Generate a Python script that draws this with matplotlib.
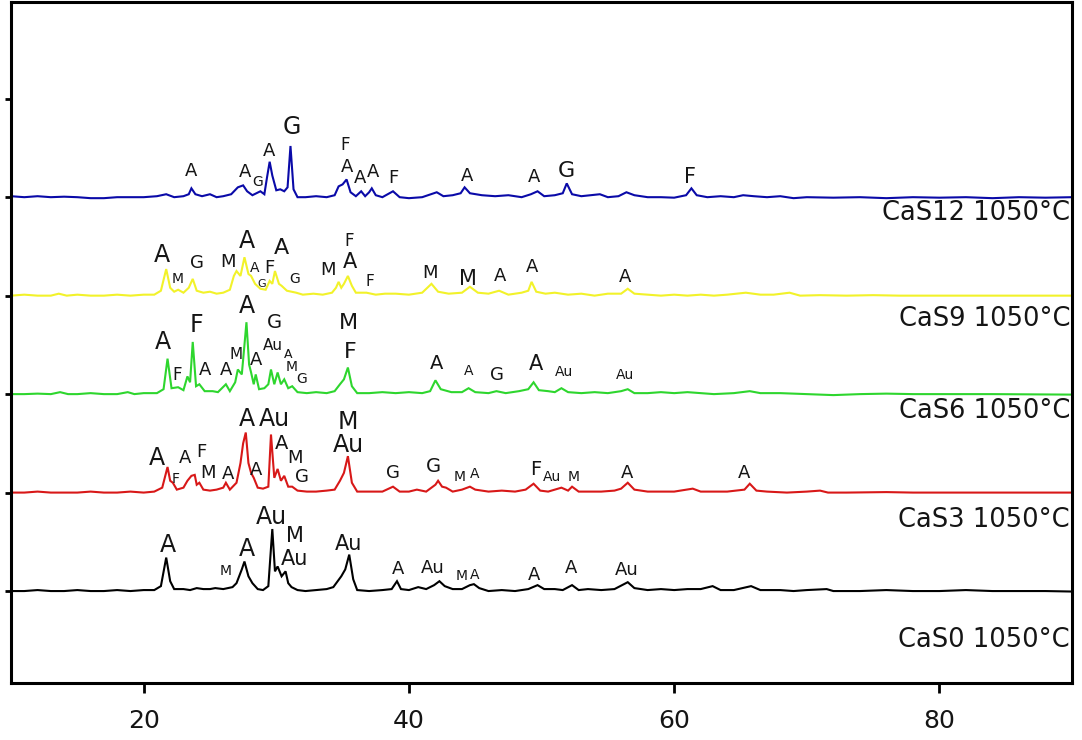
import matplotlib
matplotlib.use("Agg")
import matplotlib.pyplot as plt

plt.rcParams['font.family'] = ['DejaVu Sans']

# ---------------- data ----------------
samples = ["CaS0 1050°C", "CaS3 1050°C", "CaS6 1050°C", "CaS9 1050°C", "CaS12 1050°C"]
offsets = [1, 2, 3, 4, 5]
colors = ["#000000", "#d81818", "#2ed62e", "#f2f22a", "#0a0aa8"]

# CaS0 (black)
x0 = [10, 11, 12, 13, 14, 15, 16, 17, 18, 19, 20, 20.8, 21.3, 21.7, 22.0, 22.3, 23.0, 23.5, 24.0, 24.5,
      25.0, 25.4, 26.0, 26.7, 27.0, 27.4, 27.6, 27.9, 28.2, 28.6, 29.0, 29.4, 29.7, 29.9, 30.1, 30.4,
      30.7, 30.9, 31.15, 31.6, 32.2, 33.0, 33.8, 34.3, 34.9, 35.2, 35.5, 35.8, 36.1, 37.0, 38.0, 38.7,
      39.1, 39.4, 40.0, 40.7, 41.3, 41.9, 42.3, 42.7, 43.3, 44.0, 44.6, 44.9, 45.3, 46.0, 47.0, 48.0,
      49.0, 49.7, 50.2, 51.0, 51.6, 52.3, 52.8, 53.5, 54.5, 55.5, 56.5, 57.0, 58.0, 59.0, 60.0, 61.0,
      62.0, 62.9, 63.5, 64.5, 65.8, 66.5, 68.0, 69.0, 70.0, 71.5, 72.0, 74, 76, 78, 80, 82, 84, 86, 88, 90]
y0 = [0.0, 0.0, 0.01, 0.0, 0.0, 0.01, 0.0, 0.0, 0.01, 0.0, 0.01, 0.01, 0.05, 0.34, 0.10, 0.02, 0.02, 0.01, 0.03, 0.02,
      0.02, 0.03, 0.02, 0.04, 0.08, 0.22, 0.30, 0.15, 0.08, 0.02, 0.01, 0.05, 0.63, 0.20, 0.25, 0.15,
      0.20, 0.08, 0.04, 0.01, 0.0, 0.01, 0.02, 0.04, 0.15, 0.22, 0.37, 0.12, 0.01, 0.0, 0.01, 0.02,
      0.10, 0.02, 0.01, 0.04, 0.02, 0.06, 0.10, 0.05, 0.02, 0.02, 0.06, 0.07, 0.03, 0.0, 0.01, 0.0,
      0.02, 0.06, 0.02, 0.02, 0.01, 0.06, 0.01, 0.02, 0.01, 0.02, 0.09, 0.03, 0.01, 0.02, 0.01, 0.02,
      0.02, 0.05, 0.01, 0.01, 0.05, 0.01, 0.01, 0.0, 0.01, 0.02, 0.0, 0.0, 0.01, 0.0, 0.0, 0.01, 0.0, 0.0, 0.0, -0.005]

# CaS3 (red)
x3 = [10, 11, 12, 13, 14, 15, 16, 17, 18, 19, 20, 20.8, 21.4, 21.8, 22.0, 22.2, 22.5, 23.0, 23.3, 23.6,
      23.85, 24.0, 24.2, 24.5, 25.0, 25.5, 26.0, 26.2, 26.5, 27.0, 27.3, 27.5, 27.7, 27.9, 28.1, 28.3,
      28.6, 29.0, 29.4, 29.6, 29.85, 30.1, 30.35, 30.6, 30.9, 31.2, 31.6, 32.3, 33.0, 33.8, 34.4, 34.8,
      35.1, 35.4, 35.7, 36.1, 37.0, 38.0, 38.8, 39.3, 40.0, 40.6, 41.3, 42.0, 42.2, 42.5, 42.8, 43.3,
      44.0, 44.6, 45.0, 46.0, 47.0, 48.0, 48.8, 49.4, 49.9, 50.5, 51.5, 52.0, 52.3, 52.8, 53.5, 54.5,
      55.5, 56.0, 56.5, 57.0, 58.0, 59.0, 60.0, 61.4, 62.0, 63.0, 64.0, 65.3, 65.7, 66.2, 67.0, 68.5,
      70.0, 71.0, 71.6, 73.0, 76, 78, 82, 85, 90]
y3 = [0.0, 0.0, 0.01, 0.0, 0.0, 0.0, 0.01, 0.0, 0.0, 0.01, 0.0, 0.01, 0.05, 0.26, 0.12, 0.10, 0.03, 0.05, 0.12, 0.17,
      0.18, 0.08, 0.10, 0.03, 0.02, 0.03, 0.05, 0.10, 0.03, 0.10, 0.30, 0.50, 0.61, 0.30, 0.20, 0.15,
      0.05, 0.04, 0.06, 0.59, 0.15, 0.24, 0.12, 0.17, 0.06, 0.06, 0.02, 0.01, 0.01, 0.02, 0.03, 0.12,
      0.20, 0.37, 0.10, 0.01, 0.01, 0.01, 0.06, 0.01, 0.01, 0.03, 0.01, 0.08, 0.12, 0.06, 0.05, 0.01,
      0.03, 0.06, 0.03, 0.01, 0.02, 0.01, 0.03, 0.09, 0.02, 0.01, 0.05, 0.02, 0.06, 0.01, 0.01, 0.01,
      0.02, 0.04, 0.10, 0.03, 0.01, 0.01, 0.01, 0.04, 0.01, 0.01, 0.01, 0.03, 0.09, 0.02, 0.01, 0.0,
      0.01, 0.02, 0.0, 0.0, 0.005, 0.0, 0.0, 0.0, 0.0]

# CaS6 (green)
x6 = [10, 11, 12, 13, 13.7, 14.3, 15, 16, 17, 18, 18.8, 19.3, 20, 21.0, 21.5, 21.8, 22.1, 22.6, 23.0, 23.3,
      23.5, 23.7, 23.95, 24.2, 24.6, 25.2, 25.6, 26.2, 26.5, 26.9, 27.1, 27.4, 27.6, 27.75, 27.95, 28.1,
      28.3, 28.45, 28.7, 29.1, 29.4, 29.6, 29.85, 30.1, 30.35, 30.6, 30.9, 31.2, 31.6, 32.3, 33.0, 33.8,
      34.4, 34.8, 35.1, 35.4, 35.7, 36.1, 37.0, 38.0, 39.0, 40.0, 41.0, 41.6, 42.0, 42.4, 43.2, 44.0,
      44.5, 45.0, 46.0, 46.6, 47.3, 48.3, 49.0, 49.4, 49.8, 50.5, 51.0, 51.5, 52.0, 53.0, 54.0, 55.0,
      56.0, 56.5, 57.0, 58.0, 59.0, 60.0, 61.0, 62.0, 63.0, 64.5, 65.7, 66.5, 68.0, 70.0, 72, 74, 76,
      78, 80, 84, 90]
y6 = [0.0, 0.0, 0.005, 0.0, 0.02, 0.0, 0.0, 0.01, 0.0, 0.0, 0.02, 0.0, 0.01, 0.01, 0.05, 0.36, 0.06, 0.07, 0.04, 0.18,
      0.12, 0.53, 0.08, 0.10, 0.03, 0.03, 0.02, 0.10, 0.03, 0.12, 0.25, 0.20, 0.50, 0.73, 0.30, 0.22,
      0.10, 0.20, 0.05, 0.06, 0.10, 0.25, 0.10, 0.22, 0.10, 0.15, 0.06, 0.08, 0.02, 0.01, 0.02, 0.01,
      0.03, 0.10, 0.15, 0.27, 0.08, 0.01, 0.01, 0.02, 0.01, 0.02, 0.01, 0.03, 0.14, 0.05, 0.02, 0.02,
      0.06, 0.02, 0.01, 0.03, 0.01, 0.03, 0.05, 0.12, 0.04, 0.03, 0.02, 0.06, 0.02, 0.01, 0.02, 0.01,
      0.03, 0.05, 0.01, 0.01, 0.02, 0.01, 0.02, 0.01, 0.0, 0.01, 0.03, 0.01, 0.01, 0.0, -0.01, 0.0, 0.005,
      0.0, 0.0, 0.0, -0.005]

# CaS9 (yellow)
x9 = [10, 11, 12, 13, 13.6, 14.2, 15, 16, 17, 18, 19, 20, 20.8, 21.3, 21.7, 22.0, 22.3, 22.6, 23.0, 23.4,
      23.7, 24.0, 24.5, 25.0, 25.5, 26.0, 26.5, 26.8, 27.0, 27.3, 27.6, 27.9, 28.1, 28.4, 28.8, 29.2,
      29.5, 29.7, 29.9, 30.2, 30.4, 30.8, 31.5, 32.0, 32.8, 33.5, 34.2, 34.5, 34.7, 34.9, 35.1, 35.4,
      35.7, 36.0, 36.8, 37.5, 38.2, 39.0, 40.0, 41.0, 41.7, 42.2, 43.0, 44.0, 44.6, 45.2, 46.0, 46.8,
      47.5, 48.5, 49.0, 49.25, 49.6, 50.3, 51.0, 52.0, 53.0, 54.0, 55.0, 56.0, 56.5, 57.0, 58.0, 59.0,
      60.0, 61.0, 62.0, 63.0, 64.0, 65.4, 66.5, 67.5, 68.7, 69.5, 71.0, 73.0, 75, 77, 80, 83, 86, 90]
y9 = [0.0, 0.01, 0.0, 0.0, 0.02, 0.0, 0.01, 0.0, 0.0, 0.01, 0.0, 0.01, 0.01, 0.05, 0.27, 0.08, 0.04, 0.06, 0.03, 0.08,
      0.17, 0.05, 0.03, 0.04, 0.02, 0.03, 0.06, 0.20, 0.25, 0.20, 0.39, 0.22, 0.20, 0.12, 0.07, 0.06,
      0.15, 0.12, 0.25, 0.12, 0.10, 0.05, 0.03, 0.01, 0.02, 0.01, 0.03, 0.08, 0.14, 0.08, 0.12, 0.20,
      0.10, 0.03, 0.03, 0.01, 0.02, 0.02, 0.01, 0.03, 0.12, 0.04, 0.02, 0.03, 0.09, 0.03, 0.02, 0.05,
      0.01, 0.03, 0.05, 0.14, 0.04, 0.02, 0.03, 0.01, 0.02, 0.0, 0.02, 0.02, 0.07, 0.02, 0.01, 0.0,
      0.01, 0.0, 0.01, 0.0, 0.01, 0.03, 0.01, 0.01, 0.03, 0.0, 0.005, 0.0, 0.005, 0.0, 0.0, 0.0, 0.0, 0.0]

# CaS12 (blue)
x12 = [10, 11, 12, 13, 14, 15, 16, 17, 18, 19, 20, 21, 21.7, 22.3, 23.0, 23.4, 23.6, 23.9, 24.4, 25.0,
       25.5, 26.0, 26.6, 27.1, 27.5, 27.8, 28.2, 28.8, 29.1, 29.3, 29.5, 29.7, 30.0, 30.3, 30.6, 30.85,
       31.07, 31.3, 31.6, 32.2, 33.0, 33.8, 34.4, 34.7, 35.0, 35.3, 35.6, 36.0, 36.4, 36.7, 37.0, 37.2,
       37.5, 38.0, 38.8, 39.3, 40.0, 41.0, 42.1, 42.6, 43.3, 43.9, 44.2, 44.6, 45.5, 46.5, 47.5, 48.5,
       49.2, 49.7, 50.2, 51.0, 51.6, 51.9, 52.3, 53.0, 54.4, 55.0, 55.8, 56.4, 57.0, 58.0, 59.0, 60.0,
       60.9, 61.3, 61.7, 62.5, 63.5, 64.5, 65.2, 66.0, 67.0, 68.0, 69.0, 70.0, 72.0, 74.0, 76.0, 78.0,
       80.0, 82.0, 84.0, 86.0, 88.0, 90.0]
y12 = [0.01, 0.0, 0.01, 0.0, 0.005, 0.0, -0.01, -0.01, 0.0, 0.0, 0.0, 0.01, 0.03, 0.0, 0.01, 0.03, 0.09, 0.03, 0.01, 0.03,
       0.0, 0.01, 0.03, 0.10, 0.12, 0.06, 0.02, 0.06, 0.03, 0.20, 0.36, 0.22, 0.07, 0.08, 0.06, 0.10,
       0.52, 0.08, 0.0, 0.0, 0.01, 0.0, 0.02, 0.11, 0.13, 0.18, 0.05, 0.01, 0.06, 0.01, 0.05, 0.09,
       0.02, 0.0, 0.06, 0.0, -0.01, 0.0, 0.05, 0.01, 0.02, 0.04, 0.10, 0.04, 0.02, 0.01, 0.02, 0.0,
       0.03, 0.06, 0.01, 0.02, 0.04, 0.14, 0.03, 0.01, 0.03, 0.0, 0.01, 0.05, 0.02, 0.0, 0.0, -0.005,
       0.02, 0.09, 0.02, 0.0, 0.01, 0.0, 0.02, 0.01, 0.0, 0.01, -0.01, 0.0, -0.005, 0.0, -0.01, 0.0,
       -0.005, 0.0, -0.01, 0.0, -0.005, 0.0]

traces_x = [x0, x3, x6, x9, x12]
traces_y = [y0, y3, y6, y9, y12]

# phase labels: (text, 2theta, y position in axis units, font size)
peak_labels = [
    # CaS12
    ("A", 23.60, 5.27, 13), ("A", 27.62, 5.26, 13), ("G", 28.60, 5.15, 10), ("A", 29.43, 5.47, 13),
    ("G", 31.15, 5.71, 17), ("F", 35.17, 5.53, 12), ("A", 35.30, 5.31, 13), ("A", 36.30, 5.19, 13),
    ("A", 37.31, 5.26, 13), ("F", 38.82, 5.19, 13), ("A", 44.35, 5.22, 13), ("A", 49.47, 5.21, 13),
    ("G", 51.85, 5.27, 16), ("F", 61.21, 5.21, 15),
    # CaS9
    ("A", 21.36, 4.41, 17), ("M", 22.59, 4.17, 10), ("G", 23.98, 4.33, 13), ("M", 26.36, 4.34, 13),
    ("A", 27.75, 4.56, 17), ("A", 28.38, 4.28, 10), ("G", 28.88, 4.12, 8), ("F", 29.46, 4.28, 13),
    ("A", 30.39, 4.48, 16), ("G", 31.40, 4.17, 10), ("M", 33.91, 4.26, 13), ("A", 35.55, 4.34, 15),
    ("F", 35.49, 4.55, 12), ("F", 37.06, 4.14, 11), ("M", 41.58, 4.23, 13), ("M", 44.48, 4.17, 15),
    ("A", 46.87, 4.20, 13), ("A", 49.25, 4.29, 13), ("A", 56.30, 4.19, 13),
    # CaS6
    ("A", 21.46, 3.53, 17), ("F", 22.54, 3.19, 12), ("F", 23.98, 3.70, 17), ("A", 24.60, 3.24, 13),
    ("A", 26.24, 3.24, 13), ("M", 26.94, 3.40, 11), ("A", 27.75, 3.89, 17), ("A", 28.51, 3.35, 13),
    ("G", 29.89, 3.73, 14), ("Au", 29.76, 3.49, 11), ("A", 30.89, 3.40, 9), ("M", 31.15, 3.28, 10),
    ("G", 31.90, 3.15, 10), ("M", 35.42, 3.72, 16), ("F", 35.55, 3.43, 16), ("A", 42.09, 3.31, 14),
    ("A", 44.48, 3.23, 10), ("G", 46.64, 3.19, 13), ("A", 49.58, 3.31, 15), ("Au", 51.70, 3.22, 10),
    ("Au", 56.32, 3.19, 10),
    # CaS3
    ("A", 20.96, 2.35, 17), ("F", 22.42, 2.14, 10), ("A", 23.09, 2.35, 13), ("F", 24.35, 2.41, 13),
    ("M", 24.85, 2.20, 13), ("A", 26.36, 2.19, 13), ("A", 27.75, 2.75, 17), ("Au", 29.89, 2.75, 17),
    ("A", 28.51, 2.23, 13), ("A", 30.39, 2.50, 14), ("M", 31.40, 2.35, 13), ("G", 31.90, 2.16, 13),
    ("M", 35.42, 2.72, 17), ("Au", 35.42, 2.48, 17), ("G", 38.82, 2.20, 13), ("G", 41.83, 2.26, 14),
    ("M", 43.85, 2.16, 10), ("A", 44.98, 2.19, 10), ("F", 49.53, 2.23, 14), ("Au", 50.79, 2.16, 10),
    ("M", 52.39, 2.16, 10), ("A", 56.41, 2.20, 13), ("A", 65.25, 2.20, 13),
    # CaS0
    ("A", 21.83, 1.47, 17), ("M", 26.19, 1.20, 10), ("A", 27.75, 1.43, 17), ("Au", 29.64, 1.75, 17),
    ("M", 31.40, 1.56, 15), ("Au", 31.40, 1.33, 15), ("Au", 35.42, 1.48, 15), ("A", 39.19, 1.22, 13),
    ("Au", 41.83, 1.23, 13), ("M", 43.98, 1.15, 10), ("A", 44.98, 1.16, 10), ("A", 49.45, 1.16, 13),
    ("A", 52.20, 1.23, 13), ("Au", 56.41, 1.21, 13),
]

# sample name positions (right aligned at x end)
name_y = [0.50, 1.72, 2.83, 3.76, 4.84]

xticks = [20, 40, 60, 80]
yticks = [1, 2, 3, 4, 5, 6]

# ---------------- plot ----------------
fig = plt.figure(figsize=(10.82, 7.40), dpi=100)
ax = fig.add_axes([0.0102, 0.077, 0.9806, 0.920])

for xs, ys, off, c in zip(traces_x, traces_y, offsets, colors):
    ax.plot(xs, [v + off for v in ys], color=c, lw=1.5, solid_joinstyle='miter')

for txt, xv, yv, fs in peak_labels:
    ax.text(xv, yv, txt, fontsize=fs, ha='center', va='center', color='#151515')

for name, yv in zip(samples, name_y):
    ax.text(89.85, yv, name, fontsize=18.5, ha='right', va='center', color='#151515')

ax.set_xlim(10, 90)
ax.set_ylim(0.066, 6.98)
ax.set_xticks(xticks)
ax.set_yticks(yticks)
ax.set_yticklabels([])
ax.tick_params(axis='x', direction='out', length=7, width=2, labelsize=18, pad=12, labelcolor='#151515')
ax.tick_params(axis='y', direction='out', length=4, width=2)
for s in ax.spines.values():
    s.set_linewidth(2.2)

fig.savefig("out.png", dpi=100)
